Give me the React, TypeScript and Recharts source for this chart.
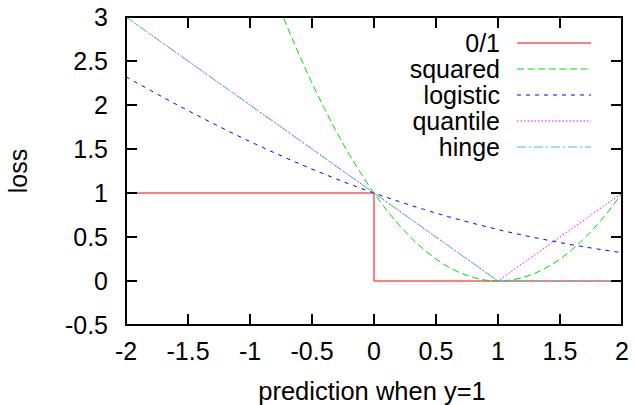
import { Legend, Line, LineChart, ReferenceArea, XAxis, YAxis } from 'recharts';

const FONT = '"Liberation Sans", Arial, Helvetica, sans-serif';

const WIDTH = 634;
const HEIGHT = 405;
const MARGIN = { top: 17, right: 12, bottom: 0, left: 0 };
const Y_AXIS_W = 126;
const X_AXIS_H = 80;
const PLOT_W = WIDTH - Y_AXIS_W - MARGIN.left - MARGIN.right;
const PLOT_H = HEIGHT - X_AXIS_H - MARGIN.top;
const TICK_LEN = 11;

const X_TICKS = [-2, -1.5, -1, -0.5, 0, 0.5, 1, 1.5, 2];
const Y_TICKS = [-0.5, 0, 0.5, 1, 1.5, 2, 2.5, 3];

// 0/1 loss (step)
const ZERO_ONE_X = [-2, 0, 2];
const ZERO_ONE_Y = [1, 0, 0];

// squared loss, only the part under the top of the frame matters
const SQUARED_X = [
  -1, -0.9, -0.8, -0.7, -0.6, -0.5, -0.4, -0.3, -0.2, -0.1, 0, 0.1, 0.2, 0.3, 0.4, 0.5, 0.6, 0.7,
  0.8, 0.9, 1, 1.1, 1.2, 1.3, 1.4, 1.5, 1.6, 1.7, 1.8, 1.9, 2,
];
const SQUARED_Y = [
  4, 3.61, 3.24, 2.89, 2.56, 2.25, 1.96, 1.69, 1.44, 1.21, 1, 0.81, 0.64, 0.49, 0.36, 0.25, 0.16,
  0.09, 0.04, 0.01, 0, 0.01, 0.04, 0.09, 0.16, 0.25, 0.36, 0.49, 0.64, 0.81, 1,
];

const LOGISTIC_X = [
  -2, -1.8, -1.6, -1.4, -1.2, -1, -0.8, -0.6, -0.4, -0.2, 0, 0.2, 0.4, 0.6, 0.8, 1, 1.2, 1.4, 1.6,
  1.8, 2,
];
const LOGISTIC_Y = [
  2.32, 2.164, 2.011, 1.864, 1.721, 1.585, 1.455, 1.331, 1.214, 1.103, 1, 0.904, 0.814, 0.731,
  0.655, 0.585, 0.521, 0.464, 0.411, 0.364, 0.322,
];

const QUANTILE_X = [-2, 1, 2];
const QUANTILE_Y = [3, 0, 1];

const HINGE_X = [-2, 1, 2];
const HINGE_Y = [3, 0, 0];

const zip = (xs: number[], ys: number[]) => xs.map((x, i) => ({ x, y: ys[i] }));

const SERIES = [
  { name: '0/1', data: zip(ZERO_ONE_X, ZERO_ONE_Y), color: '#ff0000', dash: undefined, type: 'stepAfter' },
  { name: 'squared', data: zip(SQUARED_X, SQUARED_Y), color: '#00dd00', dash: '7 3.6', type: 'monotone' },
  { name: 'logistic', data: zip(LOGISTIC_X, LOGISTIC_Y), color: '#0000ff', dash: '4 5', type: 'monotone' },
  { name: 'quantile', data: zip(QUANTILE_X, QUANTILE_Y), color: '#ff00ff', dash: '1.5 2', type: 'linear' },
  { name: 'hinge', data: zip(HINGE_X, HINGE_Y), color: '#33cccc', dash: '9 3 2 3', type: 'linear' },
] as const;

function XTick({ x, y, payload }: any) {
  return (
    <g>
      <line x1={x} y1={y} x2={x} y2={y - TICK_LEN} stroke="#000" strokeWidth={2} />
      <line x1={x} y1={y - PLOT_H} x2={x} y2={y - PLOT_H + TICK_LEN} stroke="#000" strokeWidth={2} />
      <text x={x} y={y + 35} textAnchor="middle" fontSize={25} fontFamily={FONT} fill="#000">
        {payload.value}
      </text>
    </g>
  );
}

function YTick({ x, y, payload }: any) {
  return (
    <g>
      <line x1={x} y1={y} x2={x + TICK_LEN} y2={y} stroke="#000" strokeWidth={2} />
      <line x1={x + PLOT_W} y1={y} x2={x + PLOT_W - TICK_LEN} y2={y} stroke="#000" strokeWidth={2} />
      <text x={x - 18} y={y + 9} textAnchor="end" fontSize={25} fontFamily={FONT} fill="#000">
        {payload.value}
      </text>
    </g>
  );
}

function KeyBox() {
  return (
    <div style={{ fontFamily: FONT, fontSize: 25 }}>
      {SERIES.map((s) => (
        <div key={s.name} style={{ display: 'flex', alignItems: 'center', height: 26 }}>
          <div style={{ width: 120, textAlign: 'right', lineHeight: '26px' }}>{s.name}</div>
          <svg width={92} height={26} style={{ display: 'block' }}>
            <line
              x1={17}
              y1={13}
              x2={91}
              y2={13}
              stroke={s.color}
              strokeWidth={1}
              strokeDasharray={s.dash}
            />
          </svg>
        </div>
      ))}
    </div>
  );
}

export default function App() {
  return (
    <div style={{ position: 'absolute', left: 0, top: 0, width: WIDTH, height: HEIGHT, background: '#fff' }}>
      <LineChart width={WIDTH} height={HEIGHT} margin={MARGIN}>
        <XAxis
          dataKey="x"
          type="number"
          domain={[-2, 2]}
          ticks={X_TICKS}
          interval={0}
          allowDataOverflow
          axisLine={false}
          tickLine={false}
          tickSize={0}
          tickMargin={0}
          height={X_AXIS_H}
          tick={<XTick />}
        />
        <YAxis
          type="number"
          domain={[-0.5, 3]}
          ticks={Y_TICKS}
          interval={0}
          allowDataOverflow
          axisLine={false}
          tickLine={false}
          tickSize={0}
          tickMargin={0}
          width={Y_AXIS_W}
          tick={<YTick />}
        />
        {SERIES.map((s) => (
          <Line
            key={s.name}
            data={s.data as any}
            dataKey="y"
            name={s.name}
            type={s.type as any}
            stroke={s.color}
            strokeWidth={1}
            strokeDasharray={s.dash}
            dot={false}
            activeDot={false}
            isAnimationActive={false}
          />
        ))}
        <ReferenceArea
          x1={-2}
          x2={2}
          y1={-0.5}
          y2={3}
          fill="none"
          stroke="#000"
          strokeWidth={2}
          ifOverflow="visible"
        />
        <Legend
          layout="vertical"
          align="center"
          verticalAlign="middle"
          content={() => <KeyBox />}
          wrapperStyle={{ top: 30, left: 380, width: 212, height: 130 }}
        />
        <text
          x={372}
          y={400}
          textAnchor="middle"
          fontSize={25.5}
          fontFamily={FONT}
          fill="#000"
        >
          prediction when y=1
        </text>
        <text
          x={27}
          y={171}
          transform="rotate(-90, 27, 171)"
          textAnchor="middle"
          fontSize={25}
          fontFamily={FONT}
          fill="#000"
        >
          loss
        </text>
      </LineChart>
    </div>
  );
}
